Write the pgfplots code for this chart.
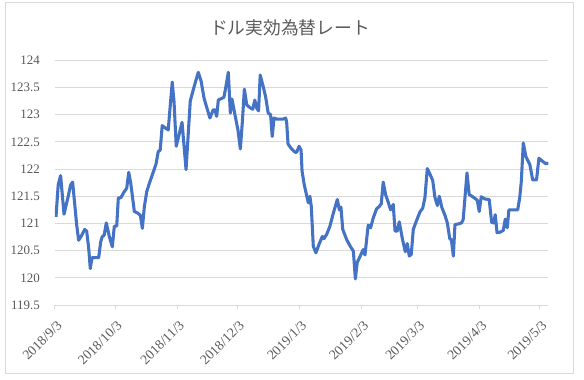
\documentclass[border=0pt]{standalone}
\usepackage{fontspec}
\setmainfont{Liberation Serif}
\newfontfamily\tnr{Liberation Serif}
\newfontfamily\cjk{Noto Sans CJK JP}
\usepackage{pgfplots}
\pgfplotsset{compat=1.18}
\usepackage{pgfplotstable}
\definecolor{lineblue}{HTML}{4472C4}
\definecolor{gridgray}{HTML}{D9D9D9}
\definecolor{txtgray}{HTML}{595959}

\pgfplotstableread{
d v
0.5 121.12
1.6 121.71
2.8 121.88
4.5 121.17
6.6 121.50
7.8 121.71
8.8 121.76
10.8 120.98
11.8 120.69
13.3 120.78
14.8 120.89
15.8 120.86
16.8 120.55
17.6 120.17
18.5 120.37
21.8 120.37
22.8 120.66
23.6 120.76
24.5 120.78
25.6 121.01
27.1 120.76
28.6 120.57
29.6 120.95
30.8 120.95
31.6 121.47
32.8 121.47
34.5 121.58
35.8 121.65
36.8 121.94
37.8 121.74
39.6 121.22
41.3 121.19
42.6 121.15
43.6 120.91
44.6 121.31
45.8 121.59
47.4 121.77
50.4 122.09
51.5 122.32
52.5 122.35
53.5 122.80
54.9 122.76
56.5 122.72
58.5 123.60
59.4 123.24
60.5 122.42
61.9 122.63
63.4 122.86
65.4 121.99
67.5 123.25
69.0 123.46
71.5 123.78
72.9 123.62
74.4 123.30
76.0 123.10
77.3 122.94
79.0 123.09
79.8 123.09
80.7 122.97
81.5 123.27
83.2 123.30
84.3 123.32
85.3 123.52
86.5 123.78
87.5 123.03
88.3 123.29
89.8 123.00
91.3 122.72
92.5 122.37
93.5 122.87
94.5 123.47
95.7 123.18
97.3 123.13
98.7 123.10
99.7 123.27
100.7 123.12
101.6 123.07
102.4 123.73
103.9 123.52
105.1 123.33
106.4 123.03
107.6 123.00
108.4 122.60
109.3 122.94
110.6 122.92
112.3 122.92
113.9 122.92
115.1 122.94
115.6 122.87
116.3 122.46
118.1 122.37
119.8 122.31
120.6 122.31
121.8 122.42
122.8 122.35
123.3 121.96
124.4 121.71
126.4 121.38
127.2 121.50
127.9 121.31
128.9 120.58
130.2 120.46
131.7 120.61
133.4 120.76
134.2 120.72
135.6 120.80
137.2 120.95
138.9 121.19
140.9 121.44
141.9 121.25
142.7 121.30
143.6 120.89
145.6 120.70
147.2 120.59
148.9 120.49
149.9 119.98
150.8 120.28
152.2 120.39
153.8 120.52
154.7 120.42
156.3 120.97
157.5 120.92
158.8 121.10
160.5 121.27
161.8 121.31
162.8 121.36
163.8 121.76
165.0 121.53
166.3 121.39
167.5 121.25
168.8 121.35
169.7 120.86
170.8 120.86
171.8 121.03
173.3 120.73
174.8 120.48
175.8 120.63
176.8 120.40
177.8 120.43
178.8 120.89
180.5 121.06
182.1 121.21
183.5 121.28
184.6 121.47
185.8 122.01
187.1 121.91
188.5 121.79
189.6 121.48
190.8 121.33
191.8 121.50
193.0 121.30
194.6 121.15
195.8 121.01
197.0 120.72
197.8 120.70
198.8 120.40
199.6 120.98
201.2 120.99
202.9 121.01
203.7 121.07
205.6 121.93
206.7 121.53
208.1 121.50
209.6 121.46
210.7 121.43
211.7 121.22
212.7 121.49
214.6 121.45
216.7 121.44
217.9 121.02
218.9 121.01
219.7 121.16
220.6 120.83
222.1 120.84
223.7 120.87
224.7 121.08
225.7 120.92
226.5 121.25
228.7 121.25
230.9 121.25
231.9 121.47
232.7 121.77
233.7 122.48
235.0 122.23
237.0 122.08
238.4 121.80
240.3 121.80
241.5 122.20
243.4 122.14
244.9 122.10
246.2 122.11
}\dollar

\begin{document}
\begin{tikzpicture}[x=1pt,y=1pt]
\useasboundingbox (-41.25,-55.5) rectangle (396.75,228.75);
\draw[gridgray, line width=0.75pt] (-36.75,-51) rectangle (388.5,226.5);
\begin{axis}[
  at={(0,0)}, anchor=south west,
  scale only axis, width=370pt, height=183.5pt,
  xmin=0, xmax=246.2, ymin=119.5, ymax=124,
  axis line style={draw=none},
  ymajorgrids, major grid style={gridgray, line width=0.75pt},
  ytick={119.5,120,120.5,121,121.5,122,122.5,123,123.5,124},
  ytick style={draw=none},
  yticklabel style={font=\tnr\fontsize{9.7}{11}\selectfont, text=txtgray, anchor=east, inner sep=0pt, xshift=-8.25pt,
    /pgf/number format/fixed, /pgf/number format/precision=1},
  /pgf/number format/assume math mode=true,
  xtick={0,30,61,91,122,153,181,212,242},
  xticklabels={2018/9/3,2018/10/3,2018/11/3,2018/12/3,2019/1/3,2019/2/3,2019/3/3,2019/4/3,2019/5/3},
  xtick pos=bottom, tick align=outside, major tick length=3pt,
  xtick style={gridgray, line width=0.75pt},
  xticklabel style={font=\tnr\fontsize{10.3}{12}\selectfont, text=txtgray, xshift=3.5pt, yshift=-10.5pt, rotate=45, anchor=east, inner sep=0pt},
  xticklabel shift=0pt,
]
\addplot[lineblue, line width=2.3pt, line join=round] table[x=d,y=v]{\dollar};
\end{axis}
\node[text=txtgray, font=\fontsize{13.3}{15}\selectfont] at (176.25,207.75) {\cjk ドル実効為替レート};
\end{tikzpicture}
\end{document}
